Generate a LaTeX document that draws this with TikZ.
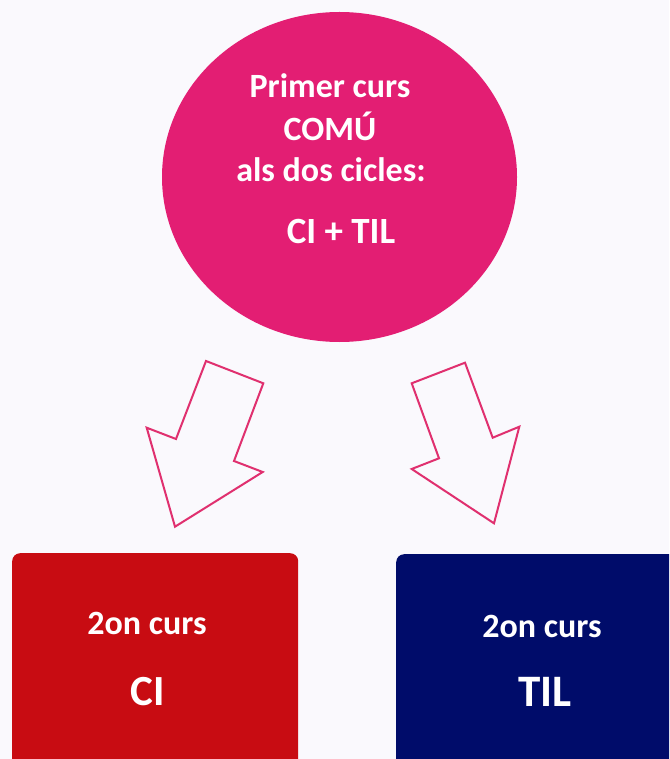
\documentclass[tikz,border=0pt]{standalone}
\usepackage{fontspec}
\setmainfont{Carlito}
\usetikzlibrary{shapes.geometric}

\definecolor{pagebg}{HTML}{FAF9FD}
\definecolor{commonpink}{HTML}{E31E73}
\definecolor{arrowpink}{HTML}{E0306F}
\definecolor{cired}{HTML}{C80C12}
\definecolor{tilblue}{HTML}{000C6A}

\begin{document}
\begin{tikzpicture}[x=1pt, y=-1pt,
		lettering/.style={text=white, inner sep=0pt, anchor=base, font=\bfseries\fontsize{34}{40}\selectfont},
		bigletters/.style={lettering, font=\bfseries\fontsize{37}{44}\selectfont},
		courseletters/.style={lettering, font=\bfseries\fontsize{43}{50}\selectfont},
		coursebox/.style={rectangle, rounded corners=8pt, anchor=north west, inner sep=0pt, minimum height=240pt},
		hollow/.style={draw=arrowpink, line width=2pt, line join=miter}]
		\useasboundingbox (0,0) rectangle (669,759);
		\clip (0,0) rectangle (669,759);
		\fill[pagebg] (0,0) rectangle (669,759);

		% first year
		\node[ellipse, fill=commonpink, minimum width=355pt, minimum height=330pt, inner sep=0pt] (common) at (339.5,177) {};
		\node[lettering] (primer) at (330,98) {Primer curs};
		\node[lettering] (comu) at (330,141) {COMÚ};
		\node[lettering] (cicles) at (331,182) {als dos cicles:};
		\node[bigletters] (both) at (341,243) {CI + TIL};

		% block arrows
		\draw[hollow] (206,361) -- (263.3,383.3) -- (234,461) -- (262.7,472) -- (175,526.7) -- (146.7,427.7) -- (176,439) -- cycle;
		\draw[hollow] (411.7,383.3) -- (465,362.7) -- (492.7,437.7) -- (519.3,426.7) -- (494,523.3) -- (411.7,469) -- (439,458.3) -- cycle;

		% second year
		\node[coursebox, fill=cired, minimum width=286pt] (ci box) at (12,553) {};
		\node[lettering] (ci year) at (147,634) {2on curs};
		\node[courseletters] (ci) at (148,705) {CI};

		\node[coursebox, fill=tilblue, minimum width=300pt] (til box) at (396,554) {};
		\node[lettering] (til year) at (542,637) {2on curs};
		\node[courseletters, font=\bfseries\fontsize{45}{52}\selectfont] (til) at (545,706.5) {TIL};
\end{tikzpicture}
\end{document}
